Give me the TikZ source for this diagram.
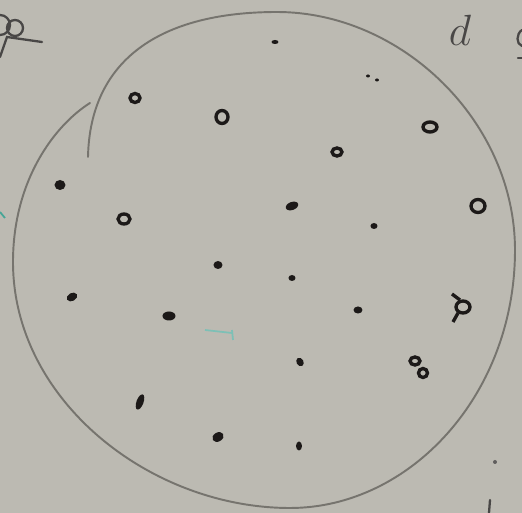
\documentclass[tikz,border=0pt]{standalone}
\usepackage{tikz}
\definecolor{paper}{RGB}{188,186,178}
\definecolor{pencil}{RGB}{118,116,110}
\definecolor{ink}{RGB}{28,25,24}
\definecolor{tealink}{RGB}{70,165,150}
\tikzset{
  outline/.style={draw=pencil, line width=1.1pt, line cap=round},
  blob/.style={fill=ink},
  ring/.style={draw=ink, line width=1.9pt},
  scribble/.style={draw=ink!80, line width=1.3pt, line cap=round},
}

\begin{document}
\begin{tikzpicture}[x=0.02cm, y=-0.02cm]
  % Paper
  \fill[paper] (0,0) rectangle (522,513);
  \useasboundingbox (0,0) rectangle (522,513);

  % Big circle, drawn in one stroke
  \draw[outline] (88,157) .. controls (90,60) and (160,12) .. (277,12)
    .. controls (402,12) and (515,122) .. (515,250)
    .. controls (515,395) and (410,508) .. (290,508)
    .. controls (150,508) and (13,400) .. (13,262)
    .. controls (13,180) and (55,125) .. (90,103);

  % Filled dots
  \foreach \x/\y/\a/\b/\r in {275/42/3.5/2/0, 368/76/2/1.5/0, 377/80/2/1.5/0, 60/185/5.5/5/0, 292/206/6.5/4/20, 374/226/3.5/3/0, 218/265/4.5/4/0, 292/278/3.5/3/0, 72/297/5.5/4/30, 169/316/6.5/4.5/0, 358/310/4.5/3.5/0, 300/362/3.5/4.5/30, 140/402/3.5/8/-20, 218/437/6/4.5/30, 299/446/3/4.5/0}
    \fill[blob, rotate around={\r:(\x,\y)}] (\x,\y) ellipse [x radius=\a, y radius=\b];

  % Open dots
  \foreach \x/\y/\a/\b in {135/98/5/4.5, 222/117/6/6.5, 430/127/7/5, 337/152/5/4, 124/219/6/5, 478/206/7/6.5, 463/307/7/6, 415/361/5/4, 423/373/4.5/4.5}
    \draw[ring] (\x,\y) ellipse [x radius=\a, y radius=\b];
  \draw[ring] (458,313) -- (453,322);
  \draw[ring] (452,294) -- (460,300);

  % Letter
  \node[text=ink!80, font=\fontsize{42}{42}\selectfont] (d) at (460,30) {$d$};

  % Scribbles at the edges
  \draw[scribble] (0,25) circle [radius=10] (15,28) circle [radius=8];
  \draw[scribble] (0,57) -- (7,37) -- (42,42);
  \draw[scribble] (522,30) .. controls (516,34) and (516,44) .. (522,46);
  \draw[scribble] (518,58) -- (522,58);
  \fill[ink!70] (495,462) circle [radius=2];
  \draw[scribble] (490,500) -- (489,513);

  % Teal marks
  \draw[tealink, line width=1pt] (0,212) -- (5,218);
  \draw[tealink!70, line width=1pt] (205,330) -- (232,333) (232,330) -- (233,340);
\end{tikzpicture}
\end{document}
